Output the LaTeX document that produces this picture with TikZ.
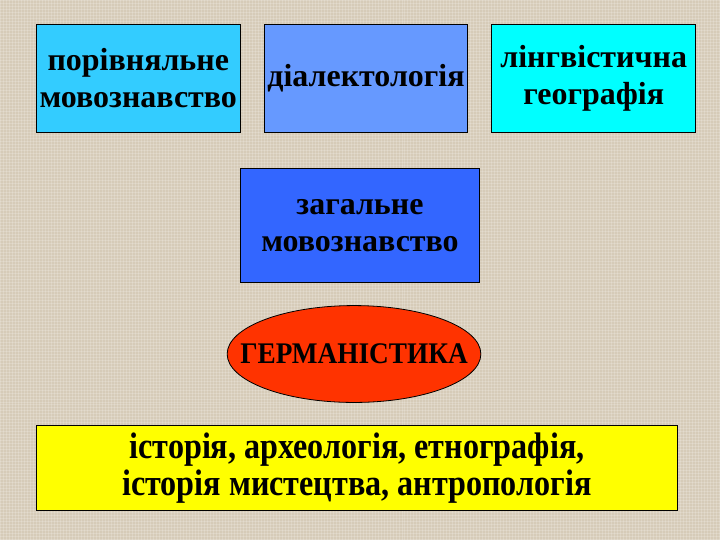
\documentclass[tikz,border=0pt]{standalone}
\usepackage{fontspec}
\setmainfont{Liberation Serif}
\usetikzlibrary{shapes.geometric}
\definecolor{bgbeige}{RGB}{214, 203, 184}
\definecolor{skyblue}{RGB}{51, 204, 255}
\definecolor{lblue}{RGB}{102, 153, 255}
\definecolor{aqua}{RGB}{0, 255, 255}
\definecolor{mblue}{RGB}{51, 102, 255}
\definecolor{hotred}{RGB}{255, 51, 0}
\definecolor{lemon}{RGB}{255, 255, 0}

\begin{document}
\begin{tikzpicture}[x=1pt,y=-1pt]
    \tikzstyle{every node}=[inner sep=0,outer sep=0,align=center,text=black]
    \tikzstyle{field}=[draw=black,line width=0.8pt,font=\fontsize{32}{37}\selectfont\bfseries]
    \fill[bgbeige] (0,0) rectangle (720,540);
    % woven texture
    \foreach \k in {0,3,...,720}
        \draw[white,opacity=0.18,line width=0.9pt] (\k,0) -- (\k,540);
    \foreach \k in {0,3,...,540}
        \draw[white,opacity=0.18,line width=0.9pt] (0,\k) -- (720,\k);
    \useasboundingbox (0,0) rectangle (720,540);
    % top row
    \node[field,fill=skyblue,minimum width=204pt,minimum height=108pt] (comp) at (138,78) {порівняльне\\мовознавство};
    \node[field,fill=lblue,minimum width=204pt,minimum height=108pt] (dial) at (366,78) {діалектологія};
    \node[field,fill=aqua,minimum width=204pt,minimum height=108pt] (geo) at (594,78) {лінгвістична\\географія};
    % middle
    \node[field,fill=mblue,minimum width=240pt,minimum height=114pt] (gen) at (360,225) {загальне\\мовознавство};
    \node[draw=black,line width=0.8pt,fill=hotred,ellipse,minimum width=254pt,minimum height=97pt] (germ) at (354,354) {};
    \node[font=\fontsize{30}{34}\selectfont\bfseries,xscale=0.91,transform shape] (germtext) at (germ.center) {ГЕРМАНІСТИКА};
    % bottom
    \node[field,fill=lemon,minimum width=642pt,minimum height=85pt] (hist) at (357,468) {};
    \node[font=\fontsize{37}{37}\selectfont\bfseries,xscale=0.87,transform shape] (histtext) at (hist.center)
        {історія, археологія, етнографія,\\історія мистецтва, антропологія};
\end{tikzpicture}
\end{document}
